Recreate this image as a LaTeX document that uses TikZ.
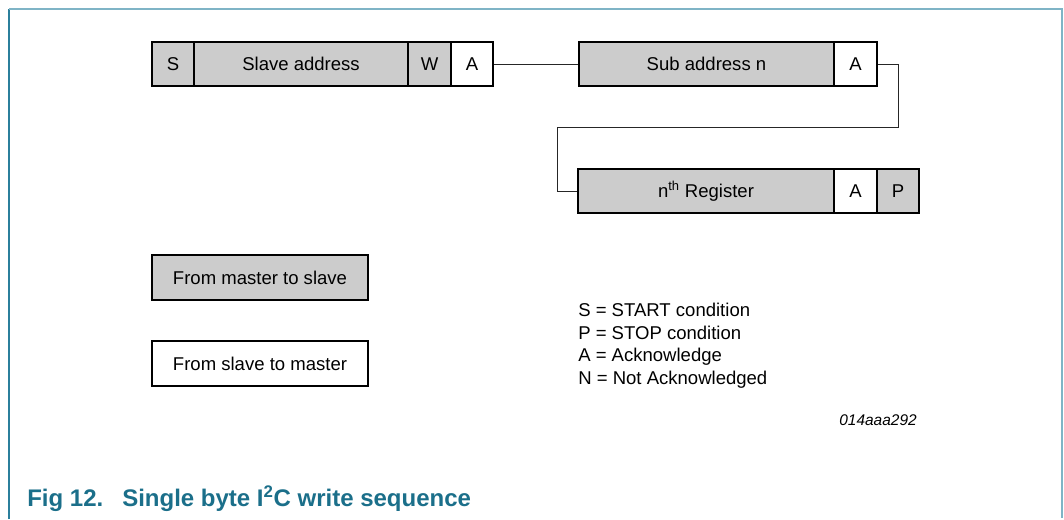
\documentclass[tikz,border=0pt]{standalone}
\usepackage{fontspec}
\setmainfont{Liberation Sans}
\usetikzlibrary{positioning}
\definecolor{nxp-teal}{HTML}{1B6F8A}
\definecolor{frame-lt}{HTML}{7FB4C6}
\definecolor{frame-dk}{HTML}{2B7F9C}
\definecolor{field-grey}{HTML}{CCCCCC}
\tikzset{
  field/.style 2 args={
    draw,
    line width=1.5pt,
    inner sep=0pt,
    minimum height=33pt,
    minimum width=#1*0.75pt,
    text height=10pt,
    text depth=0pt,
    fill=#2,
    font=\fontsize{13.9pt}{16pt}\selectfont},
  mst/.style={field={#1}{field-grey}},
  slv/.style={field={#1}{white}},
  link/.style={line width=0.75pt, black!85},
  note/.style={anchor=base west, inner sep=0pt, font=\fontsize{13.9pt}{16pt}\selectfont},
  caption/.style={anchor=base west, inner sep=0pt, text=nxp-teal, font=\fontsize{18pt}{22pt}\selectfont\bfseries},
}

\begin{document}
\begin{tikzpicture}[x=0.75pt, y=-0.75pt]
  \useasboundingbox[fill=white] (0,0) rectangle (1064,519);
  \pgfmathsetmacro{\rowa}{64}
  \pgfmathsetmacro{\rowc}{191}

  % frame
  \draw[frame-dk, line width=1.5pt] (9,519) -- (9,9);
  \draw[frame-lt, line width=1.5pt] (9,9) -- (1062,9) -- (1062,518);

  % first byte
  \node[mst=42] (start) at (173, \rowa) {S};
  \node[mst=214] (slave-addr) at (301, \rowa) {Slave address};
  \node[mst=43] (wr) at (429.5, \rowa) {W};
  \node[slv=42] (ack1) at (472, \rowa) {A};

  % sub address
  \node[mst=255] (sub-addr) at (706.5, \rowa) {Sub address n};
  \node[slv=43] (ack2) at (855.5, \rowa) {A};

  % register data
  \node[mst=256] (reg) at (706, \rowc) {n\textsuperscript{th} Register};
  \node[slv=43] (ack3) at (855.5, \rowc) {A};
  \node[mst=42] (stop) at (898, \rowc) {P};

  % links
  \coordinate (turn-r) at (898, 127);
  \coordinate (turn-l) at (557, 127);
  \draw[link] (ack1.east) -- (sub-addr.west);
  \draw[link] (ack2.east) -| (turn-r) -- (turn-l) |- (reg.west);

  % legend
  \node[mst=216, minimum height=34pt] (leg-mst) at (260, 277.5) {From master to slave};
  \node[slv=216, minimum height=34pt] (leg-slv) at (260, 363.5) {From slave to master};
  \node[note] (key-s) at (578, 316) {S = START condition};
  \node[note] (key-p) at (578, 339) {P = STOP condition};
  \node[note] (key-a) at (578, 361.5) {A = Acknowledge};
  \node[note] (key-n) at (578, 384) {N = Not Acknowledged};
  \node[note, anchor=base east, font=\fontsize{11.6pt}{14pt}\selectfont\itshape] (fig-id) at (917, 425) {014aaa292};

  % caption
  \node[caption] (fig-num) at (27, 506) {Fig 12.};
  \node[caption] (fig-title) at (122, 506) {Single byte I\textsuperscript{2}C write sequence};
\end{tikzpicture}
\end{document}
